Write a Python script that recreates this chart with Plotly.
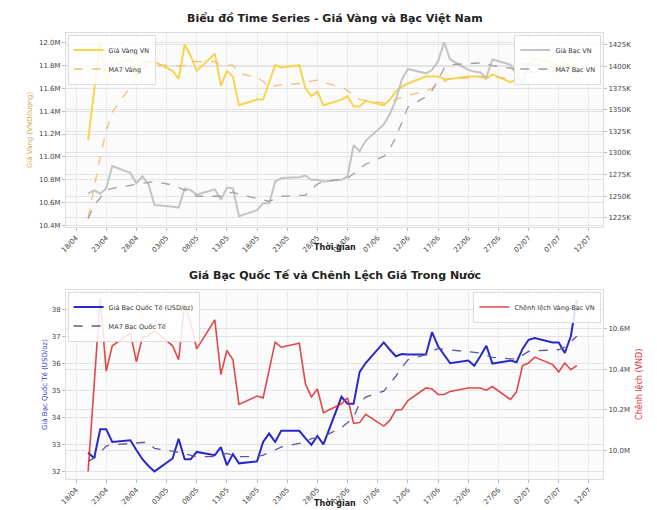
import pandas as pd
import plotly.graph_objects as go
from plotly.subplots import make_subplots

# trading days 20/04/2020 - 10/07/2020
dates = pd.bdate_range("2020-04-20", "2020-07-10")

gold_vn = [11.15, 11.60, 12.00, 11.65, 11.80, 11.85, 11.70, 11.83, 11.83, 11.83,
           11.75, 11.68, 11.98, 11.88, 11.75, 11.90, 11.62, 11.75, 11.70, 11.45,
           11.50, 11.50, 11.65, 11.80, 11.78, 11.80, 11.60, 11.53, 11.57, 11.45,
           11.50, 11.53, 11.44, 11.44, 11.49, 11.45, 11.50, 11.57, 11.61, 11.64,
           11.70, 11.70, 11.70, 11.68, 11.68, 11.70, 11.70, 11.70, 11.68, 11.72,
           11.65, 11.68, 11.81, 11.81, 11.86, 11.82, 11.78, 11.83, 11.79, 11.81]
gold_ma7 = [10.47, 10.75, 11.00, 11.23, 11.39, 11.61, 11.67, 11.76, 11.82, 11.80,
            11.80, 11.79, 11.80, 11.83, 11.83, 11.83, 11.80, 11.80, 11.80, 11.73,
            11.69, 11.66, 11.60, 11.62, 11.63, 11.64, 11.65, 11.66, 11.67, 11.65,
            11.61, 11.58, 11.54, 11.50, 11.49, 11.47, 11.48, 11.50, 11.52, 11.54,
            11.57, 11.60, 11.64, 11.66, 11.68, 11.69, 11.69, 11.70, 11.70, 11.70,
            11.68, 11.68, 11.68, 11.72, 11.74, 11.75, 11.76, 11.76, 11.77, 11.77]
silver_vn = [1253, 1257, 1253, 1259, 1285, 1277, 1265, 1273, 1264, 1240,
             1238, 1237, 1259, 1257, 1252, 1258, 1246, 1260, 1259, 1227,
             1234, 1242, 1242, 1267, 1271, 1272, 1274, 1269, 1269, 1267,
             1269, 1273, 1309, 1302, 1314, 1333, 1345, 1361, 1385, 1397,
             1392, 1396, 1406, 1428, 1408, 1396, 1394, 1393, 1387, 1408,
             1402, 1390, 1379, 1403, 1402, 1399, 1395, 1399, 1393, 1394]
silver_ma7 = [1224, 1240, 1248, 1257, 1259, 1263, 1264, 1265, 1266, 1267,
              1263, 1260, 1257, 1255, 1250, 1250, 1250, 1252, 1255, 1252,
              1248, 1246, 1244, 1247, 1250, 1251, 1251, 1258, 1264, 1267,
              1270, 1271, 1276, 1282, 1287, 1296, 1305, 1318, 1335, 1353,
              1365, 1372, 1384, 1398, 1402, 1403, 1403, 1404, 1403, 1401,
              1398, 1396, 1393, 1394, 1394, 1397, 1396, 1395, 1395, 1395]
silver_intl = [32.70, 32.49, 33.56, 33.56, 33.09, 33.15, 32.79, 32.45, 32.20, 32.00,
               32.48, 33.21, 32.45, 32.45, 32.72, 32.60, 32.90, 32.23, 32.64, 32.30,
               32.37, 33.09, 33.40, 33.09, 33.50, 33.50, 33.23, 32.98, 33.31, 33.00,
               34.76, 34.50, 34.50, 35.68, 36.01, 36.77, 36.50, 36.26, 36.34, 36.32,
               36.32, 37.15, 36.63, 36.30, 36.00, 36.10, 35.91, 36.26, 36.65, 35.99,
               36.10, 36.04, 36.53, 36.87, 36.93, 36.77, 36.77, 36.38, 37.00, 38.34]
silver_intl_ma7 = [32.37, 32.50, 32.70, 32.94, 32.98, 33.05, 33.07, 33.07, 33.07, 32.85,
                   32.75, 32.70, 32.65, 32.60, 32.55, 32.55, 32.60, 32.67, 32.60, 32.55,
                   32.55, 32.60, 32.70, 32.80, 32.90, 33.04, 33.10, 33.21, 33.25, 33.29,
                   33.62, 33.80, 33.99, 34.54, 34.75, 34.97, 35.25, 35.52, 35.85, 36.13,
                   36.32, 36.45, 36.54, 36.52, 36.50, 36.44, 36.42, 36.38, 36.30, 36.22,
                   36.16, 36.16, 36.30, 36.44, 36.46, 36.48, 36.50, 36.60, 36.80, 37.00]
spread = [9.895, 10.32, 10.75, 10.39, 10.515, 10.577, 10.436, 10.557, 10.564, 10.59,
          10.515, 10.446, 10.72, 10.626, 10.50, 10.643, 10.373, 10.492, 10.446, 10.226,
          10.267, 10.258, 10.40, 10.533, 10.508, 10.528, 10.329, 10.263, 10.302, 10.185,
          10.229, 10.258, 10.132, 10.136, 10.177, 10.119, 10.147, 10.198, 10.201, 10.245,
          10.307, 10.302, 10.275, 10.275, 10.29, 10.307, 10.307, 10.307, 10.296, 10.314,
          10.25, 10.288, 10.417, 10.43, 10.459, 10.422, 10.386, 10.43, 10.397, 10.417]

FONT = "DejaVu Sans"
fig = make_subplots(rows=2, cols=1, specs=[[{"secondary_y": True}], [{"secondary_y": True}]])

fig.add_trace(go.Scatter(x=dates, y=gold_vn, name="Giá Vàng VN", mode="lines",
                         line=dict(color="rgba(245,210,60,0.9)", width=2), legend="legend"), 1, 1, secondary_y=False)
fig.add_trace(go.Scatter(x=dates, y=gold_ma7, name="MA7 Vàng", mode="lines",
                         line=dict(color="rgba(245,185,100,0.9)", width=1.3, dash="dash"), legend="legend"), 1, 1, secondary_y=False)
fig.add_trace(go.Scatter(x=dates, y=silver_vn, name="Giá Bạc VN", mode="lines",
                         line=dict(color="rgba(190,190,190,0.9)", width=2), legend="legend2"), 1, 1, secondary_y=True)
fig.add_trace(go.Scatter(x=dates, y=silver_ma7, name="MA7 Bạc VN", mode="lines",
                         line=dict(color="#A0A0A0", width=1.3, dash="dash"), legend="legend2"), 1, 1, secondary_y=True)
fig.add_trace(go.Scatter(x=dates, y=silver_intl, name="Giá Bạc Quốc Tế (USD/oz)", mode="lines",
                         line=dict(color="#2828C8", width=2), legend="legend3"), 2, 1, secondary_y=False)
fig.add_trace(go.Scatter(x=dates, y=silver_intl_ma7, name="MA7 Bạc Quốc Tế", mode="lines",
                         line=dict(color="#5A5A9A", width=1.3, dash="dash"), legend="legend3"), 2, 1, secondary_y=False)
fig.add_trace(go.Scatter(x=dates, y=spread, name="Chênh lệch Vàng-Bạc VN", mode="lines",
                         line=dict(color="rgba(220,40,40,0.85)", width=1.6), legend="legend4"), 2, 1, secondary_y=True)

W, H = 657, 502   # page body adds an 8px top offset
top_dom = [1 - 219 / H, 1 - 25 / H]
bot_dom = [1 - 471 / H, 1 - 282 / H]
xcommon = dict(range=["2020-04-16 08:00", "2020-07-14 08:00"], tickformat="%d/%m",
               tick0="2020-04-18", dtick=5 * 86400000, tickangle=-45,
               showgrid=True, gridcolor="#EBEBEB", showline=True, linecolor="#DDDDDD", mirror=True,
               tickfont=dict(size=7, color="#444"), ticks="outside", ticklen=3, tickcolor="#BBB")
ycommon = dict(gridcolor="#E3E3E3", showline=True, linecolor="#DDDDDD", mirror=True,
               tickfont=dict(size=7, color="#444"), ticks="outside", ticklen=3, tickcolor="#BBB", zeroline=False)
leg = dict(yanchor="top", bgcolor="rgba(255,255,255,0.85)", bordercolor="#DDD", borderwidth=1,
           font=dict(size=6.5), itemwidth=30, tracegroupgap=0)

fig.update_layout(
    width=W, height=H, margin=dict(l=58, r=62, t=0, b=0),
    paper_bgcolor="white", plot_bgcolor="#FBFBFB",
    font=dict(family=FONT, size=7, color="#333"),
    xaxis=dict(domain=[0, 1], **xcommon),
    xaxis2=dict(domain=[0, 1], **xcommon),
    yaxis=dict(domain=top_dom, range=[10.39, 12.08], dtick=0.2, tickformat=".1f", ticksuffix="M", **ycommon),
    yaxis2=dict(range=[1214.5, 1438.6], dtick=25, ticksuffix="K", **ycommon),
    yaxis3=dict(domain=bot_dom, range=[31.72, 38.71], dtick=1, **ycommon),
    yaxis4=dict(range=[9.858, 10.79], dtick=0.2, tickformat=".1f", ticksuffix="M", **ycommon),
    legend=dict(x=0.003, y=top_dom[1] - 0.003, xanchor="left", **leg),
    legend2=dict(x=0.997, y=top_dom[1] - 0.003, xanchor="right", **leg),
    legend3=dict(x=0.003, y=bot_dom[1] - 0.003, xanchor="left", **leg),
    legend4=dict(x=0.997, y=bot_dom[1] - 0.003, xanchor="right", **leg),
    annotations=[
        dict(text="<b>Biểu đồ Time Series - Giá Vàng và Bạc Việt Nam</b>", x=0.5, y=1 - 11 / H,
             yanchor="middle", xref="paper", yref="paper", showarrow=False, font=dict(size=11, color="#222")),
        dict(text="<b>Giá Bạc Quốc Tế và Chênh Lệch Giá Trong Nước</b>", x=0.5, y=1 - 267 / H,
             yanchor="middle", xref="paper", yref="paper", showarrow=False, font=dict(size=11, color="#222")),
        dict(text="<b>Thời gian</b>", x=0.5, y=1 - 239 / H, yanchor="middle", xref="paper", yref="paper",
             showarrow=False, font=dict(size=8, color="#222")),
        dict(text="<b>Thời gian</b>", x=0.5, y=1 - 495 / H, yanchor="middle", xref="paper", yref="paper",
             showarrow=False, font=dict(size=8, color="#222")),
        dict(text="Giá Vàng (VND/lượng)", x=-0.067, y=sum(top_dom) / 2, xref="paper", yref="paper",
             xanchor="center", yanchor="middle", textangle=-90, showarrow=False, font=dict(size=7, color="#D4A84B")),
        dict(text="Giá Bạc (VND/lượng)", x=1.093, y=sum(top_dom) / 2, xref="paper", yref="paper",
             xanchor="center", yanchor="middle", textangle=-90, showarrow=False, font=dict(size=7, color="#999999")),
        dict(text="Giá Bạc Quốc Tế (USD/oz)", x=-0.04, y=sum(bot_dom) / 2, xref="paper", yref="paper",
             xanchor="center", yanchor="middle", textangle=-90, showarrow=False, font=dict(size=7, color="#3333CC")),
        dict(text="Chênh lệch (VND)", x=1.066, y=sum(bot_dom) / 2, xref="paper", yref="paper",
             xanchor="center", yanchor="middle", textangle=-90, showarrow=False, font=dict(size=8, color="#DD3333")),
    ],
)
fig.update_yaxes(automargin=False)
fig.update_xaxes(automargin=False)

fig.write_html("out.html")
